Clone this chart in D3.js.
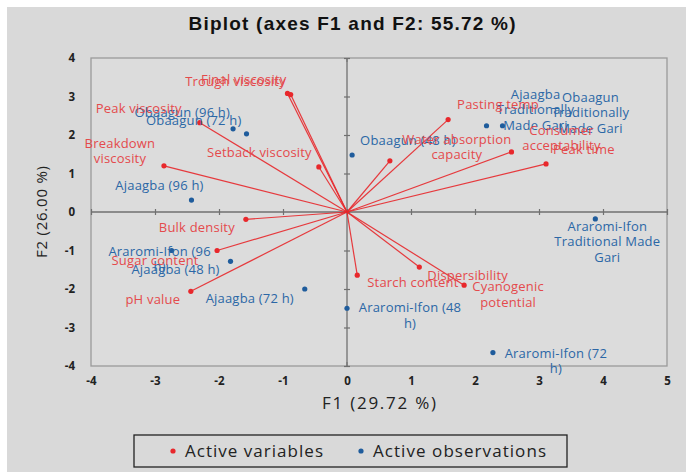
<!DOCTYPE html>
<html><head><meta charset="utf-8">
<script src="https://cdn.jsdelivr.net/npm/d3@7/dist/d3.min.js"></script>
<style>
html,body{margin:0;padding:0;background:#fff;}
svg{display:block;}
</style></head>
<body>
<svg id="chart" width="686" height="472"></svg>
<script>
// ---- data ----
const variableNames = ["Final viscosity","Trough viscosity","Setback viscosity","Peak viscosity","Breakdown viscosity","Bulk density","Sugar content","pH value","Starch content","Dispersibility","Cyanogenic potential","Water absorption capacity","Pasting temp","Consumer acceptability","Peak time"];
const variableF1 = [-0.93,-0.88,-0.44,-2.30,-2.86,-1.58,-2.03,-2.44,0.16,1.13,1.83,0.67,1.58,2.57,3.11];
const variableF2 = [3.08,3.05,1.17,2.32,1.20,-0.19,-1.00,-2.06,-1.64,-1.43,-1.90,1.33,2.40,1.56,1.25];

const observationNames = ["Obaagun (96 h)","Obaagun (72 h)","Ajaagba (96 h)","Araromi-Ifon (96 h)","Ajaagba (48 h)","Ajaagba (72 h)","Araromi-Ifon (48 h)","Araromi-Ifon (72 h)","Araromi-Ifon Traditional Made Gari","Obaagun (48 h)","Ajaagba Traditionally Made Gari","Obaagun Traditionally Made Gari"];
const observationF1 = [-1.78,-1.57,-2.43,-2.74,-1.82,-0.66,0.00,2.28,3.88,0.08,2.18,2.43];
const observationF2 = [2.16,2.03,0.31,-1.00,-1.28,-2.00,-2.50,-3.65,-0.18,1.48,2.24,2.24];

const xTicks = [-4,-3,-2,-1,0,1,2,3,4,5];
const yTicks = [-4,-3,-2,-1,0,1,2,3,4];

const titleText = "Biplot (axes F1 and F2: 55.72 %)";
const xTitle = "F1 (29.72 %)";
const yTitle = "F2 (26.00 %)";
const legendLabels = ["Active variables","Active observations"];

// ---- label layout (pixel offsets from mark, line breaks) ----
const varLabelLayout = {
  "Final viscosity":{lines:["Final viscosity"],dx:-1,dy:-12,anchor:"end"},
  "Trough viscosity":{lines:["Trough viscosity"],dx:-5,dy:-12,anchor:"end"},
  "Setback viscosity":{lines:["Setback viscosity"],dx:-7,dy:-13,anchor:"end"},
  "Peak viscosity":{lines:["Peak viscosity"],dx:-18,dy:-13,anchor:"end"},
  "Breakdown viscosity":{lines:["Breakdown","viscosity"],dx:-44,dy:-21,anchor:"middle"},
  "Bulk density":{lines:["Bulk density"],dx:-49,dy:10,anchor:"middle"},
  "Sugar content":{lines:["Sugar content"],dx:-62,dy:11,anchor:"middle"},
  "pH value":{lines:["pH value"],dx:-38,dy:10,anchor:"middle"},
  "Starch content":{lines:["Starch content"],dx:10,dy:9,anchor:"start"},
  "Dispersibility":{lines:["Dispersibility"],dx:8,dy:10,anchor:"start"},
  "Cyanogenic potential":{lines:["Cyanogenic","potential"],dx:44,dy:3,anchor:"middle"},
  "Water absorption capacity":{lines:["Water absorption","capacity"],dx:67,dy:-20,anchor:"middle"},
  "Pasting temp":{lines:["Pasting temp"],dx:9,dy:-14,anchor:"start"},
  "Consumer acceptability":{lines:["Consumer","acceptability"],dx:50,dy:-20,anchor:"middle"},
  "Peak time":{lines:["Peak time"],dx:7,dy:-13,anchor:"start"}
};
const obsLabelLayout = {
  "Obaagun (96 h)":{lines:["Obaagun (96 h)"],dx:-3,dy:-15,anchor:"end"},
  "Obaagun (72 h)":{lines:["Obaagun (72 h)"],dx:-5,dy:-12,anchor:"end"},
  "Ajaagba (96 h)":{lines:["Ajaagba (96 h)"],dx:-32,dy:-13,anchor:"middle"},
  "Araromi-Ifon (96 h)":{lines:["Araromi-Ifon (96","h)"],dx:-12,dy:2,anchor:"middle"},
  "Ajaagba (48 h)":{lines:["Ajaagba (48 h)"],dx:-55,dy:10,anchor:"middle"},
  "Ajaagba (72 h)":{lines:["Ajaagba (72 h)"],dx:-55,dy:11,anchor:"middle"},
  "Araromi-Ifon (48 h)":{lines:["Araromi-Ifon (48","h)"],dx:63,dy:1,anchor:"middle"},
  "Araromi-Ifon (72 h)":{lines:["Araromi-Ifon (72","h)"],dx:63,dy:2,anchor:"middle"},
  "Araromi-Ifon Traditional Made Gari":{lines:["Araromi-Ifon","Traditional  Made","Gari"],dx:12,dy:9,anchor:"middle"},
  "Obaagun (48 h)":{lines:["Obaagun (48 h)"],dx:8,dy:-13,anchor:"start"},
  "Ajaagba Traditionally Made Gari":{lines:["Ajaagba","Traditionally","Made Gari"],dx:49,dy:-30,anchor:"middle"},
  "Obaagun Traditionally Made Gari":{lines:["Obaagun","Traditionally","Made Gari"],dx:88,dy:-27,anchor:"middle"}
};

// ---- drawing ----
const svg = d3.select("#chart");
const W = 686, H = 472;
const bg = "#d9d9d9";
const red = "#e8282c", redText = "#e44a4c";
const blue = "#1f5c9c", blueText = "#2b67a6";
const font = "'Open Sans', sans-serif";

svg.append("rect").attr("x",7).attr("y",7).attr("width",W-7).attr("height",H-7).attr("fill",bg);

const x = d3.scaleLinear().domain([-4,5]).range([91,667]);
const y = d3.scaleLinear().domain([-4,4]).range([366,58]);

// plot frame
svg.append("rect").attr("x",x(-4)).attr("y",y(4)).attr("width",x(5)-x(-4)).attr("height",y(-4)-y(4))
  .attr("fill","#dcdcdc").attr("stroke","#9a9a9a").attr("stroke-width",1.3);

// axes through origin with ticks
const axX = d3.axisBottom(x).tickValues(xTicks).tickSize(6).tickFormat("");
const gx = svg.append("g").attr("transform",`translate(0,${y(0)})`).call(axX);
gx.selectAll("line").attr("transform","translate(0,-3)");
const axY = d3.axisLeft(y).tickValues(yTicks).tickSize(6).tickFormat("");
const gy = svg.append("g").attr("transform",`translate(${x(0)},0)`).call(axY);
gy.selectAll("line").attr("transform","translate(3,0)");
[gx,gy].forEach(g=>{g.select(".domain").attr("stroke","#707070").attr("stroke-width",1.3);
  g.selectAll(".tick line").attr("stroke","#707070").attr("stroke-width",1.2);});
gx.select(".domain").attr("d",`M${x(-4)},0H${x(5)}`);
gy.select(".domain").attr("d",`M0,${y(-4)}V${y(4)}`);

// tick labels around the frame
const fmt = d => String(d);
const axB = d3.axisBottom(x).tickValues(xTicks).tickSize(0).tickPadding(11).tickFormat(fmt);
const gb = svg.append("g").attr("transform",`translate(0,${y(-4)})`).call(axB);
const axL = d3.axisLeft(y).tickValues(yTicks).tickSize(0).tickPadding(16).tickFormat(fmt);
const gl = svg.append("g").attr("transform",`translate(${x(-4)},0)`).call(axL);
[gb,gl].forEach(g=>{g.select(".domain").remove();
  g.selectAll("text").attr("font-family",font).attr("font-weight","bold").attr("font-size",11.5).attr("fill","#222");});
// small ticks at origin on frame
svg.append("line").attr("x1",x(0)).attr("x2",x(0)).attr("y1",y(4)).attr("y2",y(4)+4).attr("stroke","#707070");
svg.append("line").attr("x1",x(0)).attr("x2",x(0)).attr("y1",y(-4)).attr("y2",y(-4)-4).attr("stroke","#707070");

const plot = svg.append("g");

// variables
const vars = variableNames.map((n,i)=>({name:n,f1:variableF1[i],f2:variableF2[i]}));
plot.selectAll("line.var").data(vars).join("line").attr("class","var")
  .attr("x1",x(0)).attr("y1",y(0)).attr("x2",d=>x(d.f1)).attr("y2",d=>y(d.f2))
  .attr("stroke",red).attr("stroke-width",1.2).attr("opacity",0.9);
plot.selectAll("circle.var").data(vars).join("circle").attr("class","var")
  .attr("cx",d=>x(d.f1)).attr("cy",d=>y(d.f2)).attr("r",2.6).attr("fill",red);

// observations
const obs = observationNames.map((n,i)=>({name:n,f1:observationF1[i],f2:observationF2[i]}));
plot.selectAll("circle.obs").data(obs).join("circle").attr("class","obs")
  .attr("cx",d=>x(d.f1)).attr("cy",d=>y(d.f2)).attr("r",2.6).attr("fill",blue);

function drawLabels(data, layout, color){
  data.forEach(d=>{
    const L = layout[d.name];
    const t = plot.append("text").attr("font-family",font).attr("font-size",13)
      .attr("letter-spacing",0.2)
      .attr("fill",color).attr("text-anchor",L.anchor)
      .attr("x",x(d.f1)+L.dx).attr("y",y(d.f2)+L.dy).attr("dominant-baseline","middle");
    L.lines.forEach((ln,k)=>{
      t.append("tspan").attr("x",x(d.f1)+L.dx).attr("dy",k===0?0:15.5).text(ln);
    });
  });
}
drawLabels(obs, obsLabelLayout, blueText);
drawLabels(vars, varLabelLayout, redText);

// titles
svg.append("text").attr("x",352).attr("y",30).attr("text-anchor","middle")
  .attr("font-family","'Liberation Sans', Arial, sans-serif").attr("font-weight","bold").attr("font-size",19)
  .attr("textLength",327).attr("lengthAdjust","spacing")
  .attr("fill","#111").text(titleText);
svg.append("text").attr("x",(x(-4)+x(5))/2).attr("y",409).attr("text-anchor","middle")
  .attr("font-family",font).attr("font-size",17).attr("textLength",114).attr("lengthAdjust","spacing")
  .attr("fill","#222").text(xTitle);
svg.append("text").attr("transform",`translate(47,${y(0)}) rotate(-90)`).attr("text-anchor","middle")
  .attr("font-family",font).attr("font-size",15).attr("textLength",92).attr("lengthAdjust","spacing")
  .attr("fill","#222").text(yTitle);

// legend
const lg = svg.append("g");
lg.append("rect").attr("x",134).attr("y",435).attr("width",433).attr("height",32)
  .attr("fill","none").attr("stroke","#222").attr("stroke-width",1.3);
const legendColors = [red, blue];
const legendX = [173, 361];
const legendW = [138, 173];
legendLabels.forEach((lab,i)=>{
  lg.append("circle").attr("cx",legendX[i]).attr("cy",451).attr("r",2.6).attr("fill",legendColors[i]);
  lg.append("text").attr("x",legendX[i]+12).attr("y",457)
    .attr("font-family",font).attr("font-size",17).attr("textLength",legendW[i]).attr("lengthAdjust","spacing")
    .attr("fill","#222").text(lab);
});
</script>
</body></html>
